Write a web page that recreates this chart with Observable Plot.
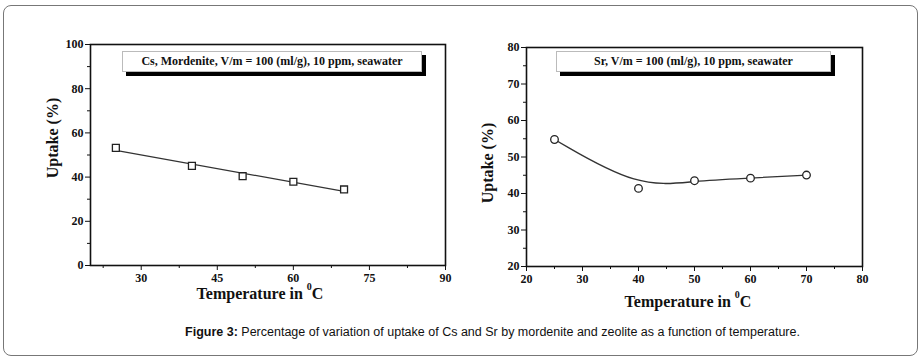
<!DOCTYPE html>
<html><head><meta charset="utf-8">
<script src="https://cdn.jsdelivr.net/npm/d3@7"></script>
<script src="https://cdn.jsdelivr.net/npm/@observablehq/plot@0.6"></script>
<style>
body{margin:0;background:#fff;}
#wrap{position:relative;width:921px;height:360px;overflow:hidden;background:#fff;}
.border{position:absolute;left:3px;top:5px;width:913px;height:349px;border:1px solid #777;border-radius:8px;}
.plot{position:absolute;top:0;}
.box{position:absolute;background:#fff;border:1px solid #bbb;box-shadow:4px 4px 0 #000;font:bold 12px "Liberation Serif",serif;text-align:center;line-height:19px;color:#111;}
.ylab{position:absolute;font:bold 16px "Liberation Serif",serif;transform:translate(-50%,-50%) rotate(-90deg);white-space:nowrap;color:#111;}
.xlab{position:absolute;font:bold 16px "Liberation Serif",serif;transform:translate(-50%,-50%);white-space:nowrap;color:#111;}
.xlab sup{font-size:10px;position:relative;top:-2px;}
.cap{position:absolute;left:32px;width:921px;top:325px;text-align:center;font:12.5px "Liberation Sans Narrow","Arial Narrow","Liberation Sans",sans-serif;color:#111;}
</style></head>
<body><div id="wrap">
<div class="border"></div>
<div id="p1" class="plot" style="left:0px"></div>
<div id="p2" class="plot" style="left:460px"></div>
<div class="box" style="left:122px;top:51px;width:298px;height:19px;">Cs, Mordenite, V/m = 100 (ml/g), 10 ppm, seawater</div>
<div class="box" style="left:556px;top:51px;width:273px;height:19px;">Sr, V/m = 100 (ml/g), 10 ppm, seawater</div>
<div class="ylab" style="left:53px;top:138px;">Uptake (%)</div>
<div class="ylab" style="left:488px;top:163px;">Uptake (%)</div>
<div class="xlab" style="left:260px;top:293px;">Temperature in <sup>0</sup>C</div>
<div class="xlab" style="left:688px;top:301px;">Temperature in <sup>0</sup>C</div>
<div class="cap"><b>Figure 3:</b> Percentage of variation of uptake of Cs and Sr by mordenite and zeolite as a function of temperature.</div>
</div>
<script>
// Data
const temperature = [25, 40, 50, 60, 70];
const csUptake = [53.2, 45.1, 40.4, 37.9, 34.4];
const srUptake = [54.8, 41.4, 43.5, 44.2, 45.05];

const csXTicks = [30, 45, 60, 75, 90];
const csXMinor = [22.5, 37.5, 52.5, 67.5, 82.5];
const csYTicks = [0, 20, 40, 60, 80, 100];
const csYMinor = [10, 30, 50, 70, 90];
const srXTicks = [20, 30, 40, 50, 60, 70, 80];
const srXMinor = [25, 35, 45, 55, 65, 75];
const srYTicks = [20, 30, 40, 50, 60, 70, 80];
const srYMinor = [25, 35, 45, 55, 65, 75];

const cs = temperature.map((t, i) => ({t, u: csUptake[i]}));
const sr = temperature.map((t, i) => ({t, u: srUptake[i]}));

const font = {fontFamily: "Liberation Serif, serif", fontWeight: "bold", fontSize: 12};

function axes(xt, xm, yt, ym) {
  return [
    Plot.axisX(xt, {tickSize: 5, tickPadding: 3, label: null, ...font, stroke: "#111", fill: "#111"}),
    Plot.axisX(xm, {tickSize: 3, tickFormat: () => "", label: null, stroke: "#111"}),
    Plot.axisY(yt, {tickSize: 5, tickPadding: 2, label: null, ...font, stroke: "#111", fill: "#111"}),
    Plot.axisY(ym, {tickSize: 3, tickFormat: () => "", label: null, stroke: "#111"}),
    Plot.frame({stroke: "#111", strokeWidth: 1.6})
  ];
}

const p1 = Plot.plot({
  width: 460, height: 310,
  marginLeft: 90, marginRight: 15, marginTop: 44, marginBottom: 45,
  x: {domain: [20, 90]},
  y: {domain: [0, 100]},
  style: {background: "transparent"},
  marks: [
    ...axes(csXTicks, csXMinor, csYTicks, csYMinor),
    Plot.linearRegressionY(cs, {x: "t", y: "u", ci: 0, stroke: "#333", strokeWidth: 1.3}),
    Plot.dot(cs, {x: "t", y: "u", symbol: "square", r: 3.9, fill: "white", stroke: "#222", strokeWidth: 1.3})
  ]
});
document.getElementById("p1").appendChild(p1);

const p2 = Plot.plot({
  width: 461, height: 310,
  marginLeft: 66, marginRight: 59, marginTop: 47, marginBottom: 44,
  x: {domain: [20, 80]},
  y: {domain: [20, 80]},
  style: {background: "transparent"},
  marks: [
    ...axes(srXTicks, srXMinor, srYTicks, srYMinor),
    Plot.line(sr, {x: "t", y: "u", curve: "basis", stroke: "#333", strokeWidth: 1.3}),
    Plot.dot(sr, {x: "t", y: "u", r: 3.8, fill: "white", stroke: "#222", strokeWidth: 1.3})
  ]
});
document.getElementById("p2").appendChild(p2);
</script>
</body></html>
